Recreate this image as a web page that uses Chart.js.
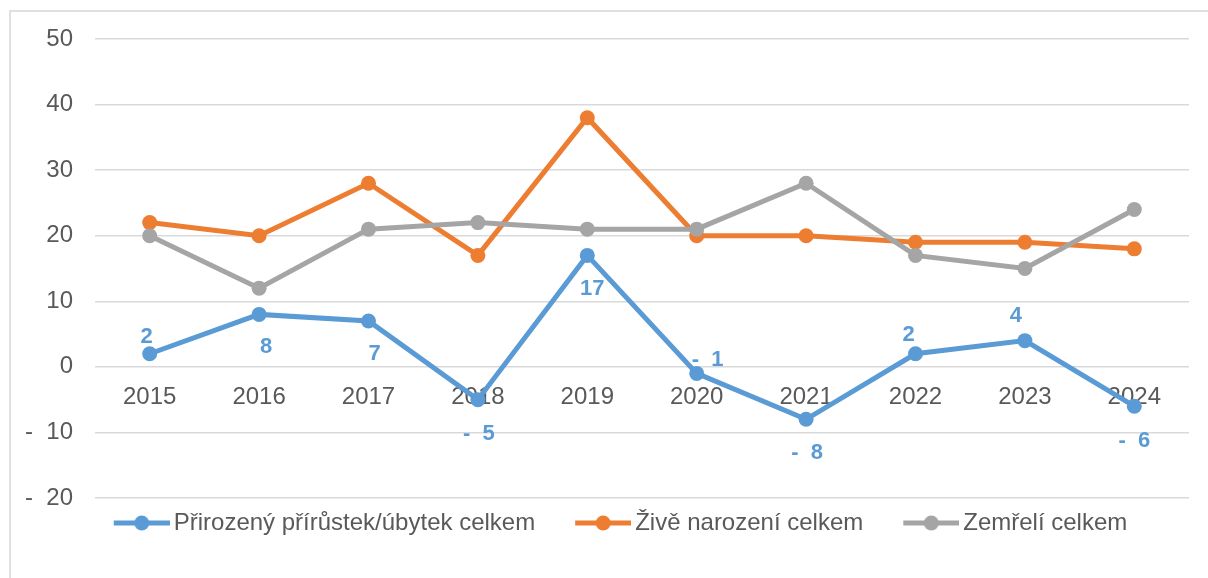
<!DOCTYPE html>
<html>
<head>
<meta charset="utf-8">
<script src="https://cdn.jsdelivr.net/npm/chart.js@4/dist/chart.umd.min.js"></script>
<style>
    body { margin: 0; background: #fff; }
    #wrap { position: relative; width: 1208px; height: 578px; }
    #frame { position: absolute; left: 9px; top: 10px; right: -5px; bottom: -5px;
             border-top: 2px solid #e0e0e0; border-left: 2px solid #e0e0e0; }
    #graf { position: absolute; left: 0; top: 0; }
</style>
</head>
<body>
<div id="wrap">
    <div id="frame"></div>
    <canvas id="graf" width="1208" height="578"></canvas>
</div>
<script>
// data
const roky = ['2015', '2016', '2017', '2018', '2019', '2020', '2021', '2022', '2023', '2024'];
const prirustek = [2, 8, 7, -5, 17, -1, -8, 2, 4, -6];
const narozeni = [22, 20, 28, 17, 38, 20, 20, 19, 19, 18];
const zemreli = [20, 12, 21, 22, 21, 21, 28, 17, 15, 24];
const yMin = -20;
const yMax = 50;
const yKrok = 10;

const nazvy = ['Přirozený přírůstek/úbytek celkem', 'Živě narození celkem', 'Zemřelí celkem'];
const barvy = ['#5B9BD5', '#ED7D31', '#A5A5A5'];

// where each data label sits relative to its point (dx, dy in px)
const posunStitku = [[-3, -17], [7, 33], [6, 33], [1, 34], [5, 34], [11, -13], [1, 34], [-7, -19], [-9, -25], [0, 35]];

function formatCislo(v) {
    return v < 0 ? '-  ' + Math.abs(v) : String(v);
}

function legendaZnacka(barva) {
    const c = document.createElement('canvas');
    c.width = 91;
    c.height = 18;
    const g = c.getContext('2d');
    g.strokeStyle = barva;
    g.lineWidth = 5;
    g.beginPath();
    g.moveTo(35, 9);
    g.lineTo(91, 9);
    g.stroke();
    g.fillStyle = barva;
    g.beginPath();
    g.arc(63, 9, 7.5, 0, Math.PI * 2);
    g.fill();
    return c;
}
const znacky = barvy.map(legendaZnacka);

const stitky = {
    id: 'stitky',
    afterLayout(chart) {
        // legenda je v originale o kousek vpravo
        chart.legend.left += 5;
        chart.legend.right += 5;
    },
    afterDatasetsDraw(chart) {
        const ctx = chart.ctx;
        const meta = chart.getDatasetMeta(0);
        ctx.save();
        ctx.font = 'bold 22px "Liberation Sans", Arial, sans-serif';
        ctx.fillStyle = barvy[0];
        ctx.textAlign = 'center';
        ctx.textBaseline = 'middle';
        meta.data.forEach((bod, i) => {
            const p = posunStitku[i];
            ctx.fillText(formatCislo(prirustek[i]), bod.x + p[0], bod.y + p[1]);
        });
        ctx.restore();
    }
};

Chart.defaults.font.family = '"Liberation Sans", Arial, sans-serif';
Chart.defaults.font.size = 24;
Chart.defaults.color = '#595959';

function dataset(i, data, poradi) {
    return {
        label: nazvy[i],
        data: data,
        borderColor: barvy[i],
        backgroundColor: barvy[i],
        borderWidth: 5,
        pointRadius: 7.5,
        pointBorderWidth: 0,
        pointHoverRadius: 7.5,
        tension: 0,
        order: poradi
    };
}

new Chart(document.getElementById('graf'), {
    type: 'line',
    data: {
        labels: roky,
        datasets: [
            dataset(0, prirustek, 2),
            dataset(1, narozeni, 1),
            dataset(2, zemreli, 0)
        ]
    },
    options: {
        responsive: false,
        animation: false,
        layout: { padding: { top: 39, left: 15, right: 19, bottom: 33 } },
        scales: {
            x: {
                position: { y: 0 },
                offset: true,
                grid: { display: false },
                border: { display: false },
                ticks: { padding: 8, maxRotation: 0 }
            },
            y: {
                min: yMin,
                max: yMax,
                afterFit: s => { s.width = 80; },
                grid: { color: '#d9d9d9', lineWidth: 1.5, drawTicks: false },
                border: { display: false },
                ticks: { stepSize: yKrok, padding: 22, callback: v => formatCislo(v) }
            }
        },
        plugins: {
            tooltip: { enabled: false },
            legend: {
                position: 'bottom',
                labels: {
                    usePointStyle: true,
                    pointStyleWidth: 75,
                    padding: 13,
                    color: '#595959',
                    sort: (a, b) => a.datasetIndex - b.datasetIndex,
                    generateLabels: chart => Chart.defaults.plugins.legend.labels.generateLabels(chart).map(l => {
                        l.pointStyle = znacky[l.datasetIndex];
                        return l;
                    })
                }
            }
        }
    },
    plugins: [stitky]
});
</script>
</body>
</html>
